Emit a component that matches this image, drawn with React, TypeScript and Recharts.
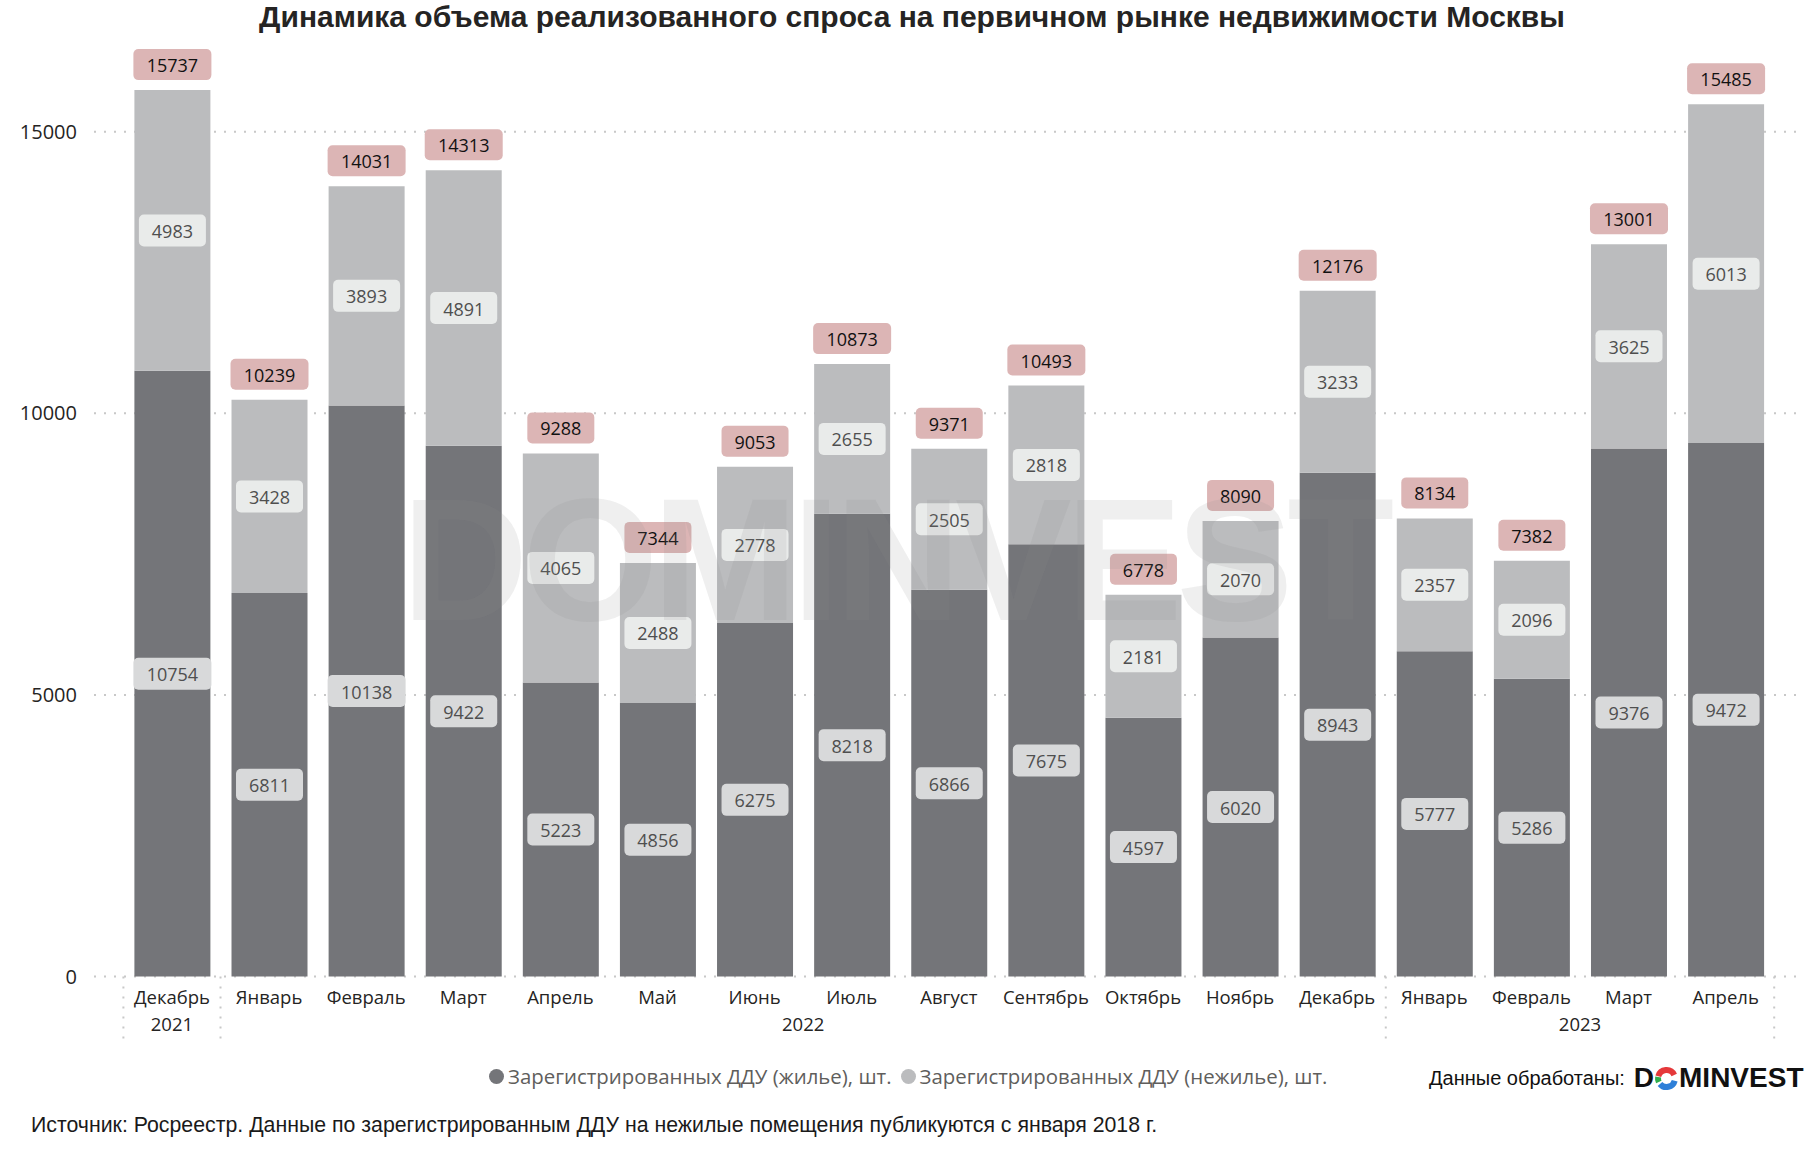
import React from 'react';
import { BarChart, Bar, XAxis, YAxis, CartesianGrid, LabelList } from 'recharts';

const months = ['Декабрь', 'Январь', 'Февраль', 'Март', 'Апрель', 'Май', 'Июнь', 'Июль', 'Август', 'Сентябрь', 'Октябрь', 'Ноябрь', 'Декабрь', 'Январь', 'Февраль', 'Март', 'Апрель'];
const years = ['2021', '2022', '2022', '2022', '2022', '2022', '2022', '2022', '2022', '2022', '2022', '2022', '2022', '2023', '2023', '2023', '2023'];
const residential = [10754, 6811, 10138, 9422, 5223, 4856, 6275, 8218, 6866, 7675, 4597, 6020, 8943, 5777, 5286, 9376, 9472];
const nonResidential = [4983, 3428, 3893, 4891, 4065, 2488, 2778, 2655, 2505, 2818, 2181, 2070, 3233, 2357, 2096, 3625, 6013];
const totals = [15737, 10239, 14031, 14313, 9288, 7344, 9053, 10873, 9371, 10493, 6778, 8090, 12176, 8134, 7382, 13001, 15485];
const yTicks = [0, 5000, 10000, 15000];

const TITLE = 'Динамика объема реализованного спроса на первичном рынке недвижимости Москвы';
const LEGEND_RES = 'Зарегистрированных ДДУ (жилье), шт.';
const LEGEND_NONRES = 'Зарегистрированных ДДУ (нежилье), шт.';
const SOURCE = 'Источник: Росреестр. Данные по зарегистрированным ДДУ на нежилые помещения публикуются с января 2018 г.';
const PROCESSED = 'Данные обработаны:';

const COLOR_RES = '#747579';
const COLOR_NONRES = '#BBBCBE';
const UI_FONT = '"Open Sans", "Noto Sans", sans-serif';
const ARIAL = '"Liberation Sans", Arial, sans-serif';

const data = months.map((m, i) => ({
  key: `${m}|${years[i]}|${i}`,
  month: m,
  year: years[i],
  res: residential[i],
  nonres: nonResidential[i],
  total: totals[i],
}));

// year groups derived from the years array
const groups: { year: string; start: number; end: number }[] = [];
years.forEach((y, i) => {
  const last = groups[groups.length - 1];
  if (last && last.year === y) last.end = i + 1;
  else groups.push({ year: y, start: i, end: i + 1 });
});

// layout constants
const CHART_W = 1810;
const CHART_H = 1155;
const MARGIN = { top: 75.3, right: 10, left: 10 };
const Y_AXIS_W = 84;
const X_AXIS_H = 70;
const PLOT_BOTTOM = 976.6;
const X_PADDING = { left: 29.4, right: 25.8 };
const PLOT_W = CHART_W - MARGIN.left - MARGIN.right - Y_AXIS_W;

const MonthTick = (props: any) => {
  const { x, y, payload, index } = props;
  const axisW = Number(props.width) > 0 ? Number(props.width) : PLOT_W;
  const pitch = (axisW - X_PADDING.left - X_PADDING.right) / months.length;
  const i = typeof index === 'number' ? index : Number(payload.index);
  const label = String(payload.value).split('|')[0];
  const cx = Number(x);
  const ty = Number(y);
  const parts: React.ReactNode[] = [
    <text key="m" x={cx} y={ty + 19.5} textAnchor="middle" dominantBaseline="central" fontSize={18.5} fontFamily={UI_FONT} fill="#252423">
      {label}
    </text>,
  ];
  groups.forEach((g, gi) => {
    if (g.start === i) {
      const left = cx - pitch / 2;
      parts.push(
        <line key={`s${gi}`} x1={left} x2={left} y1={ty} y2={ty + 62} stroke="#C8C8C8" strokeWidth={2} strokeDasharray="2 8" />
      );
      const center = left + ((g.end - g.start) * pitch) / 2;
      parts.push(
        <text key={`y${gi}`} x={center} y={ty + 47} textAnchor="middle" dominantBaseline="central" fontSize={18.5} fontFamily={UI_FONT} fill="#252423">
          {g.year}
        </text>
      );
    }
    if (g.end - 1 === i && gi === groups.length - 1) {
      const right = cx + pitch / 2;
      parts.push(
        <line key={`e${gi}`} x1={right} x2={right} y1={ty} y2={ty + 62} stroke="#C8C8C8" strokeWidth={2} strokeDasharray="2 8" />
      );
    }
  });
  return <g>{parts}</g>;
};

const TotalLabel = (props: any) => {
  const { x, y, width, value } = props;
  const s = String(value);
  const w = s.length * 11 + 23;
  const cx = Number(x) + Number(width) / 2;
  const bottom = Number(y) - 10;
  return (
    <g>
      <rect x={cx - w / 2} y={bottom - 31} width={w} height={31} rx={5} ry={5} fill="#DCB5B5" />
      <text x={cx} y={bottom - 15} textAnchor="middle" dominantBaseline="central" fontSize={18} fontFamily={UI_FONT} fill="#111111">
        {s}
      </text>
    </g>
  );
};

const makeInnerLabel = (boxFill: string) => (props: any) => {
  const { x, y, width, height, value } = props;
  const s = String(value);
  const w = s.length * 11 + 23;
  const cx = Number(x) + Number(width) / 2;
  const cy = Number(y) + Number(height) / 2;
  return (
    <g>
      <rect x={cx - w / 2} y={cy - 16} width={w} height={32} rx={5} ry={5} fill={boxFill} />
      <text x={cx} y={cy + 0.5} textAnchor="middle" dominantBaseline="central" fontSize={18} fontFamily={UI_FONT} fill="#4F4F4F">
        {s}
      </text>
    </g>
  );
};
const ResLabel = makeInnerLabel('#D8D9DA');
const NonResLabel = makeInnerLabel('#E9EBEA');

const gridGenerator = (props: any) => {
  const s = props && props.yAxis ? props.yAxis.scale : null;
  if (!s) return [];
  return yTicks.map((t) => (typeof s === 'function' ? s(t) : s.map ? s.map(t) : null)).filter((v) => v != null && !isNaN(v));
};

const LogoRing = ({ size }: { size: number }) => {
  const r = size * 0.34;
  const c = size / 2;
  const arc = (a0: number, a1: number) => {
    const rad = (a: number) => (a * Math.PI) / 180;
    const x0 = c + r * Math.cos(rad(a0));
    const y0 = c + r * Math.sin(rad(a0));
    const x1 = c + r * Math.cos(rad(a1));
    const y1 = c + r * Math.sin(rad(a1));
    const large = a1 - a0 > 180 ? 1 : 0;
    return `M ${x0} ${y0} A ${r} ${r} 0 ${large} 1 ${x1} ${y1}`;
  };
  const sw = size * 0.24;
  return (
    <svg width={size} height={size} style={{ display: 'block' }}>
      <path d={arc(-165, -25)} stroke="#E5393B" strokeWidth={sw} fill="none" />
      <path d={arc(15, 140)} stroke="#2D7FD8" strokeWidth={sw} fill="none" />
      <path d={arc(155, 190)} stroke="#2FAE4E" strokeWidth={sw} fill="none" />
    </svg>
  );
};

export default function App() {
  return (
    <div style={{ position: 'absolute', left: 0, top: 0, width: CHART_W, height: CHART_H, background: '#ffffff', overflow: 'hidden' }}>
      <div
        style={{
          position: 'absolute',
          left: 912,
          top: 0,
          transform: 'translateX(-50%)',
          whiteSpace: 'nowrap',
          fontFamily: ARIAL,
          fontWeight: 700,
          fontSize: 30,
          lineHeight: '34px',
          color: '#252423',
        }}
      >
        {TITLE}
      </div>

      <div style={{ position: 'absolute', left: 0, top: 0 }}>
        <BarChart
          width={CHART_W}
          height={CHART_H}
          data={data}
          margin={{ top: MARGIN.top, right: MARGIN.right, bottom: CHART_H - PLOT_BOTTOM - X_AXIS_H, left: MARGIN.left }}
          barSize={76}
        >
          <CartesianGrid
            vertical={false}
            xAxisId="month"
            stroke="#C8C8C8"
            strokeWidth={2}
            strokeDasharray="2 8"
            horizontalCoordinatesGenerator={gridGenerator}
          />
          <XAxis
            xAxisId="month"
            dataKey="key"
            type="category"
            interval={0}
            axisLine={false}
            tickLine={false}
            tickSize={0}
            tickMargin={0}
            height={X_AXIS_H}
            padding={X_PADDING}
            tick={<MonthTick />}
          />
          <YAxis
            width={Y_AXIS_W}
            domain={[0, 16000]}
            ticks={yTicks}
            axisLine={false}
            tickLine={false}
            tickSize={0}
            tickMargin={17}
            tick={{ fontSize: 20, fontFamily: UI_FONT, fill: '#252423' }}
          />
          <Bar xAxisId="month" dataKey="res" stackId="a" fill={COLOR_RES} isAnimationActive={false}>
            <LabelList dataKey="res" content={ResLabel} />
          </Bar>
          <Bar xAxisId="month" dataKey="nonres" stackId="a" fill={COLOR_NONRES} isAnimationActive={false}>
            <LabelList dataKey="nonres" content={NonResLabel} />
            <LabelList dataKey="total" content={TotalLabel} />
          </Bar>
        </BarChart>
      </div>

      <div
        style={{
          position: 'absolute',
          left: 895,
          top: 465,
          transform: 'translateX(-50%)',
          whiteSpace: 'nowrap',
          fontFamily: ARIAL,
          fontWeight: 700,
          fontSize: 175,
          letterSpacing: -6,
          lineHeight: '190px',
          color: 'rgba(140,140,140,0.14)',
          pointerEvents: 'none',
        }}
      >
        DOMINVEST
      </div>

      <div
        style={{
          position: 'absolute',
          left: 489,
          top: 1063,
          display: 'flex',
          alignItems: 'center',
          whiteSpace: 'nowrap',
          fontFamily: UI_FONT,
          fontSize: 20.4,
          lineHeight: '26px',
          color: '#605E5C',
        }}
      >
        <span style={{ width: 15, height: 15, borderRadius: '50%', background: COLOR_RES, display: 'inline-block', marginRight: 4 }} />
        <span>{LEGEND_RES}</span>
        <span style={{ width: 15, height: 15, borderRadius: '50%', background: COLOR_NONRES, display: 'inline-block', marginLeft: 9, marginRight: 4 }} />
        <span>{LEGEND_NONRES}</span>
      </div>

      <div
        style={{
          position: 'absolute',
          left: 1429,
          top: 1062,
          display: 'flex',
          alignItems: 'center',
          whiteSpace: 'nowrap',
        }}
      >
        <span style={{ fontFamily: ARIAL, fontSize: 20, color: '#111', marginRight: 9 }}>{PROCESSED}</span>
        <span style={{ fontFamily: ARIAL, fontWeight: 700, fontSize: 28, color: '#111' }}>D</span>
        <LogoRing size={25} />
        <span style={{ fontFamily: ARIAL, fontWeight: 700, fontSize: 28, color: '#111' }}>MINVEST</span>
      </div>

      <div
        style={{
          position: 'absolute',
          left: 31,
          top: 1112,
          whiteSpace: 'nowrap',
          fontFamily: ARIAL,
          fontSize: 21.3,
          lineHeight: '26px',
          color: '#1a1a1a',
        }}
      >
        {SOURCE}
      </div>
    </div>
  );
}
